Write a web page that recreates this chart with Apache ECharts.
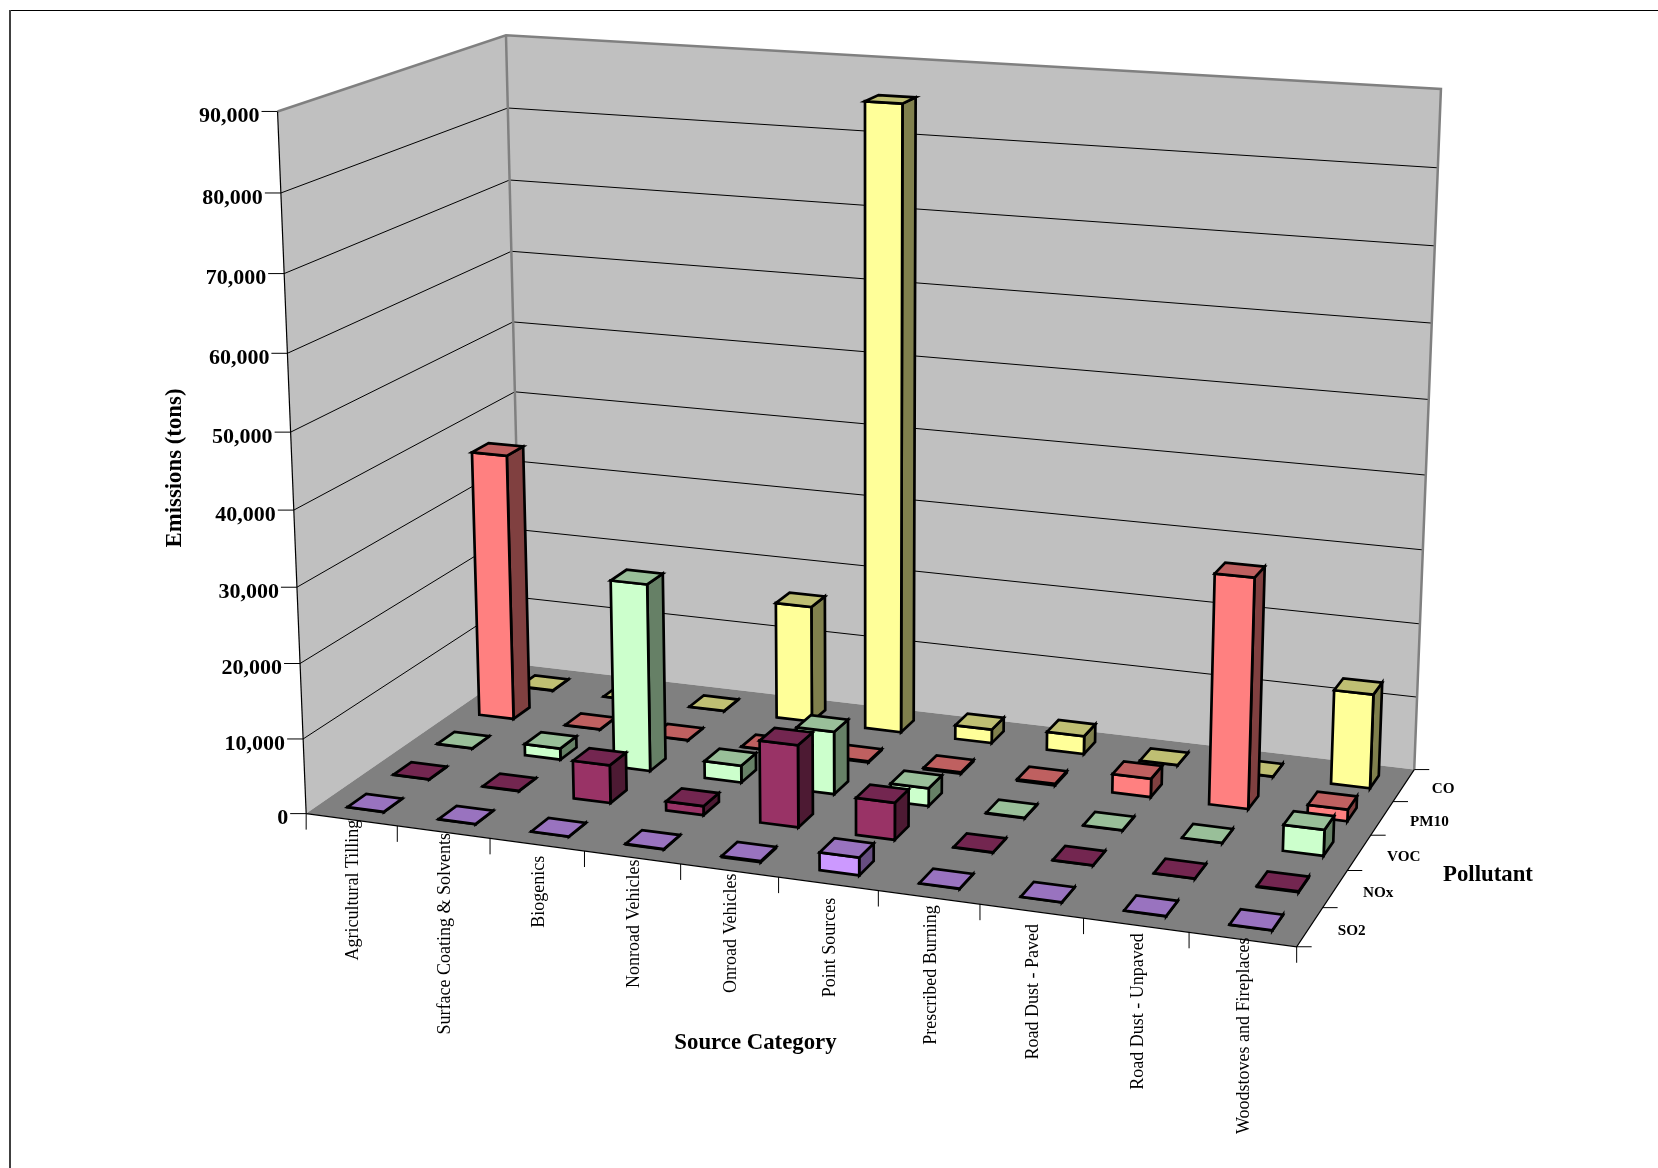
<!DOCTYPE html>
<html>
<head>
<meta charset="utf-8">
<title>Emissions by Source Category and Pollutant</title>
<script src="https://cdn.jsdelivr.net/npm/echarts@6/dist/echarts.min.js"></script>
<style>
  html, body { margin: 0; padding: 0; background: #fff; }
  #chart { width: 1658px; height: 1168px; }
</style>
</head>
<body>
<div id="chart"></div>
<script>
// Chart content
const categories = ['Agricultural Tilling', 'Surface Coating & Solvents', 'Biogenics', 'Nonroad Vehicles', 'Onroad Vehicles',
  'Point Sources', 'Prescribed Burning', 'Road Dust - Paved', 'Road Dust - Unpaved', 'Woodstoves and Fireplaces'];
const pollutants = ['SO2', 'NOx', 'VOC', 'PM10', 'CO'];
const valueTicks = [0, 10000, 20000, 30000, 40000, 50000, 60000, 70000, 80000, 90000];
const valueTickLabels = ['0', '10,000', '20,000', '30,000', '40,000', '50,000', '60,000', '70,000', '80,000', '90,000'];

// Tons per source category, one list per pollutant
const so2 = [30, 30, 30, 60, 150, 2300, 30, 30, 30, 30];
const nox = [40, 40, 5100, 1200, 10900, 4900, 40, 40, 40, 100];
const voc = [40, 1550, 25500, 2300, 8450, 2400, 60, 40, 40, 3400];
const pm10 = [37100, 40, 40, 40, 150, 200, 200, 2500, 30750, 1550];
const co = [30, 30, 30, 16300, 85600, 1900, 2500, 30, 30, 12750];

// Face colours of each pollutant's columns, back row drawn first
const rows = [
  { name: 'CO', values: co, depth: 4, front: '#FFFF99', top: '#BFBF73', side: '#80804D' },
  { name: 'PM10', values: pm10, depth: 3, front: '#FF8080', top: '#BF6060', side: '#804040' },
  { name: 'VOC', values: voc, depth: 2, front: '#CCFFCC', top: '#99BF99', side: '#668066' },
  { name: 'NOx', values: nox, depth: 1, front: '#993366', top: '#732650', side: '#4D1A33' },
  { name: 'SO2', values: so2, depth: 0, front: '#CC99FF', top: '#9973BF', side: '#664D80' }
];

// Camera: screen positions of known box corners, [across, up, into, screenX, screenY]
const anchors = [
  [0, 0, 0, 306, 813.3], [1, 0, 0, 1296, 946.7], [0, 0, 1, 522, 664.8], [1, 0, 1, 1413.7, 770],
  [0, 1, 0, 277.7, 111.7], [0, 1, 1, 505.7, 35], [1, 1, 1, 1441, 89], [0.5, 0, 0, 778, 878],
  [1, 0, 0.2, 1323.2, 907.3], [1, 0, 0.4, 1348.2, 870], [1, 0, 0.6, 1370.7, 835], [1, 0, 0.8, 1392.9, 801.7],
  [0, 4 / 9, 0, 294, 510]
];

// Least-squares fit of the 3x4 projection matrix with its last entry fixed at 1
function fitCamera(pts) {
  const n = 11;
  const A = Array.from({ length: n }, () => new Array(n + 1).fill(0));
  const addRow = (r, rhs) => {
    for (let i = 0; i < n; i++) {
      for (let j = 0; j < n; j++) A[i][j] += r[i] * r[j];
      A[i][n] += r[i] * rhs;
    }
  };
  pts.forEach(([X, Y, Z, x, y]) => {
    addRow([X, Y, Z, 1, 0, 0, 0, 0, -x * X, -x * Y, -x * Z], x);
    addRow([0, 0, 0, 0, X, Y, Z, 1, -y * X, -y * Y, -y * Z], y);
  });
  for (let c = 0; c < n; c++) {
    let best = c;
    for (let r = c + 1; r < n; r++) if (Math.abs(A[r][c]) > Math.abs(A[best][c])) best = r;
    [A[c], A[best]] = [A[best], A[c]];
    for (let r = 0; r < n; r++) {
      if (r === c) continue;
      const f = A[r][c] / A[c][c];
      for (let k = c; k <= n; k++) A[r][k] -= f * A[c][k];
    }
  }
  return A.map((row, i) => row[n] / row[i]);
}
const cam = fitCamera(anchors);
function project(u, v, w) {
  const d = cam[8] * u + cam[9] * v + cam[10] * w + 1;
  return [
    (cam[0] * u + cam[1] * v + cam[2] * w + cam[3]) / d,
    (cam[4] * u + cam[5] * v + cam[6] * w + cam[7]) / d
  ];
}

// Column footprint as a share of its cell, in both directions
const COLUMN_SHARE = 0.4;
const FONT = '"Liberation Serif", "Times New Roman", serif';
const WALL = '#C0C0C0';
const FLOOR = '#808080';
const EDGE = '#808080';
// Distance of each category label's top end below the floor edge
const categoryLabelGap = [0, 1, 11, 2, 3, 14, 8, 13, 8, -2];

// Normalised position on the hidden grid, taken from its category and value scales
function gridPoint(api, params, cat, value) {
  const c = api.coord([cat, value]);
  const g = params.coordSys;
  return { u: (c[0] - g.x) / g.width, v: (g.y + g.height - c[1]) / g.height };
}
const poly = (points, fill) => ({
  type: 'polygon', shape: { points }, style: { fill, stroke: null, lineWidth: 0 }
});
const line = (points, stroke, lineWidth) => ({
  type: 'polyline', shape: { points }, style: { fill: null, stroke, lineWidth }
});
const label = (text, x, y, size, weight, align, rotation) => ({
  type: 'text', x, y, rotation: rotation || 0,
  style: { text, fill: '#000', font: `${weight} ${size}px ${FONT}`, align, verticalAlign: 'middle' }
});

// Walls, floor, gridlines, ticks and all axis text
function renderFrame(params, api) {
  const children = [];
  children.push(poly([project(0, 0, 0), project(0, 1, 0), project(0, 1, 1), project(0, 0, 1)], WALL));
  children.push(poly([project(0, 0, 1), project(0, 1, 1), project(1, 1, 1), project(1, 0, 1)], WALL));
  children.push(poly([project(0, 0, 0), project(0, 0, 1), project(1, 0, 1), project(1, 0, 0)], FLOOR));

  valueTicks.forEach((t, i) => {
    const v = gridPoint(api, params, 0, t).v;
    if (i > 0 && i < valueTicks.length - 1) {
      children.push(line([project(0, v, 0), project(0, v, 1), project(1, v, 1)], '#000', 1));
    }
    const p = project(0, v, 0);
    children.push(line([[p[0] - 16, p[1]], p], '#000', 1));
    children.push(label(valueTickLabels[i], p[0] - 18, p[1] + 5, 22, 'bold', 'right'));
  });
  children.push(line([project(0, 1, 0), project(0, 1, 1), project(1, 1, 1), project(1, 0, 1)], EDGE, 2.5));
  children.push(line([project(0, 1, 1), project(0, 0, 1)], EDGE, 2.5));
  children.push(line([project(0, 1, 0), project(0, 0, 0)], '#000', 1.2));
  children.push(line([project(0, 0, 0), project(1, 0, 0), project(1, 0, 1)], '#000', 1.2));

  categories.forEach((name, i) => {
    const e = project(i / categories.length, 0, 0);
    children.push(line([e, [e[0], e[1] + 16]], '#000', 1));
    const c = project((i + 0.5) / categories.length, 0, 0);
    children.push(label(name, c[0] + 2, c[1] + categoryLabelGap[i], 18, 'normal', 'right', Math.PI / 2));
  });
  const last = project(1, 0, 0);
  children.push(line([last, [last[0], last[1] + 16]], '#000', 1));

  pollutants.forEach((name, i) => {
    const e = project(1, 0, i / pollutants.length);
    children.push(line([e, [e[0] + 15, e[1]]], '#000', 1));
    const m = project(1, 0, (i + 0.5) / pollutants.length);
    children.push(label(name, m[0] + 28, m[1] + 4, 15.2, 'bold', 'left'));
  });
  const rear = project(1, 0, 1);
  children.push(line([rear, [rear[0] + 15, rear[1]]], '#000', 1));

  children.push(label('Emissions (tons)', 175, 468, 22.8, 'bold', 'center', Math.PI / 2));
  children.push(label('Source Category', 755.5, 1043.5, 22.8, 'bold', 'center'));
  children.push(label('Pollutant', 1443, 875.5, 22.8, 'bold', 'left'));
  return { type: 'group', children };
}

// One column: right side, front and top faces outlined in black
function columnRenderer(row) {
  return function (params, api) {
    const cat = api.value(0);
    const base = gridPoint(api, params, cat, 0);
    const head = gridPoint(api, params, cat, api.value(1));
    const halfU = (COLUMN_SHARE / categories.length) / 2;
    const halfW = (COLUMN_SHARE / pollutants.length) / 2;
    const w = (row.depth + 0.5) / pollutants.length;
    const u0 = base.u - halfU, u1 = base.u + halfU, w0 = w - halfW, w1 = w + halfW;
    const v0 = base.v, v1 = head.v;
    const face = (points, fill) => ({
      type: 'polygon', shape: { points },
      style: { fill, stroke: '#000', lineWidth: 2.7, lineJoin: 'miter' }
    });
    return {
      type: 'group',
      children: [
        face([project(u1, v0, w0), project(u1, v0, w1), project(u1, v1, w1), project(u1, v1, w0)], row.side),
        face([project(u0, v0, w0), project(u1, v0, w0), project(u1, v1, w0), project(u0, v1, w0)], row.front),
        face([project(u0, v1, w0), project(u1, v1, w0), project(u1, v1, w1), project(u0, v1, w1)], row.top)
      ]
    };
  };
}

const chart = echarts.init(document.getElementById('chart'), null, { renderer: 'canvas' });
chart.setOption({
  animation: false,
  backgroundColor: '#fff',
  grid: { left: 0, right: 0, top: 0, bottom: 0 },
  xAxis: { type: 'category', data: categories, show: false },
  yAxis: { type: 'value', min: 0, max: 90000, interval: 10000, show: false },
  // Sheet border along the top and left
  graphic: [
    { type: 'line', shape: { x1: 10, y1: 10.5, x2: 1658, y2: 10.5 }, style: { stroke: '#000', lineWidth: 1 } },
    { type: 'line', shape: { x1: 10, y1: 10, x2: 10, y2: 1168 }, style: { stroke: '#404040', lineWidth: 2 } }
  ],
  series: [
    { type: 'custom', name: 'frame', silent: true, renderItem: renderFrame, data: [[0, 0]], encode: { x: 0, y: 1 }, z: 1 }
  ].concat(rows.map((row) => ({
    type: 'custom',
    name: row.name,
    silent: true,
    renderItem: columnRenderer(row),
    data: row.values.map((v, i) => [i, v]),
    encode: { x: 0, y: 1 },
    z: 2
  })))
});
</script>
</body>
</html>
